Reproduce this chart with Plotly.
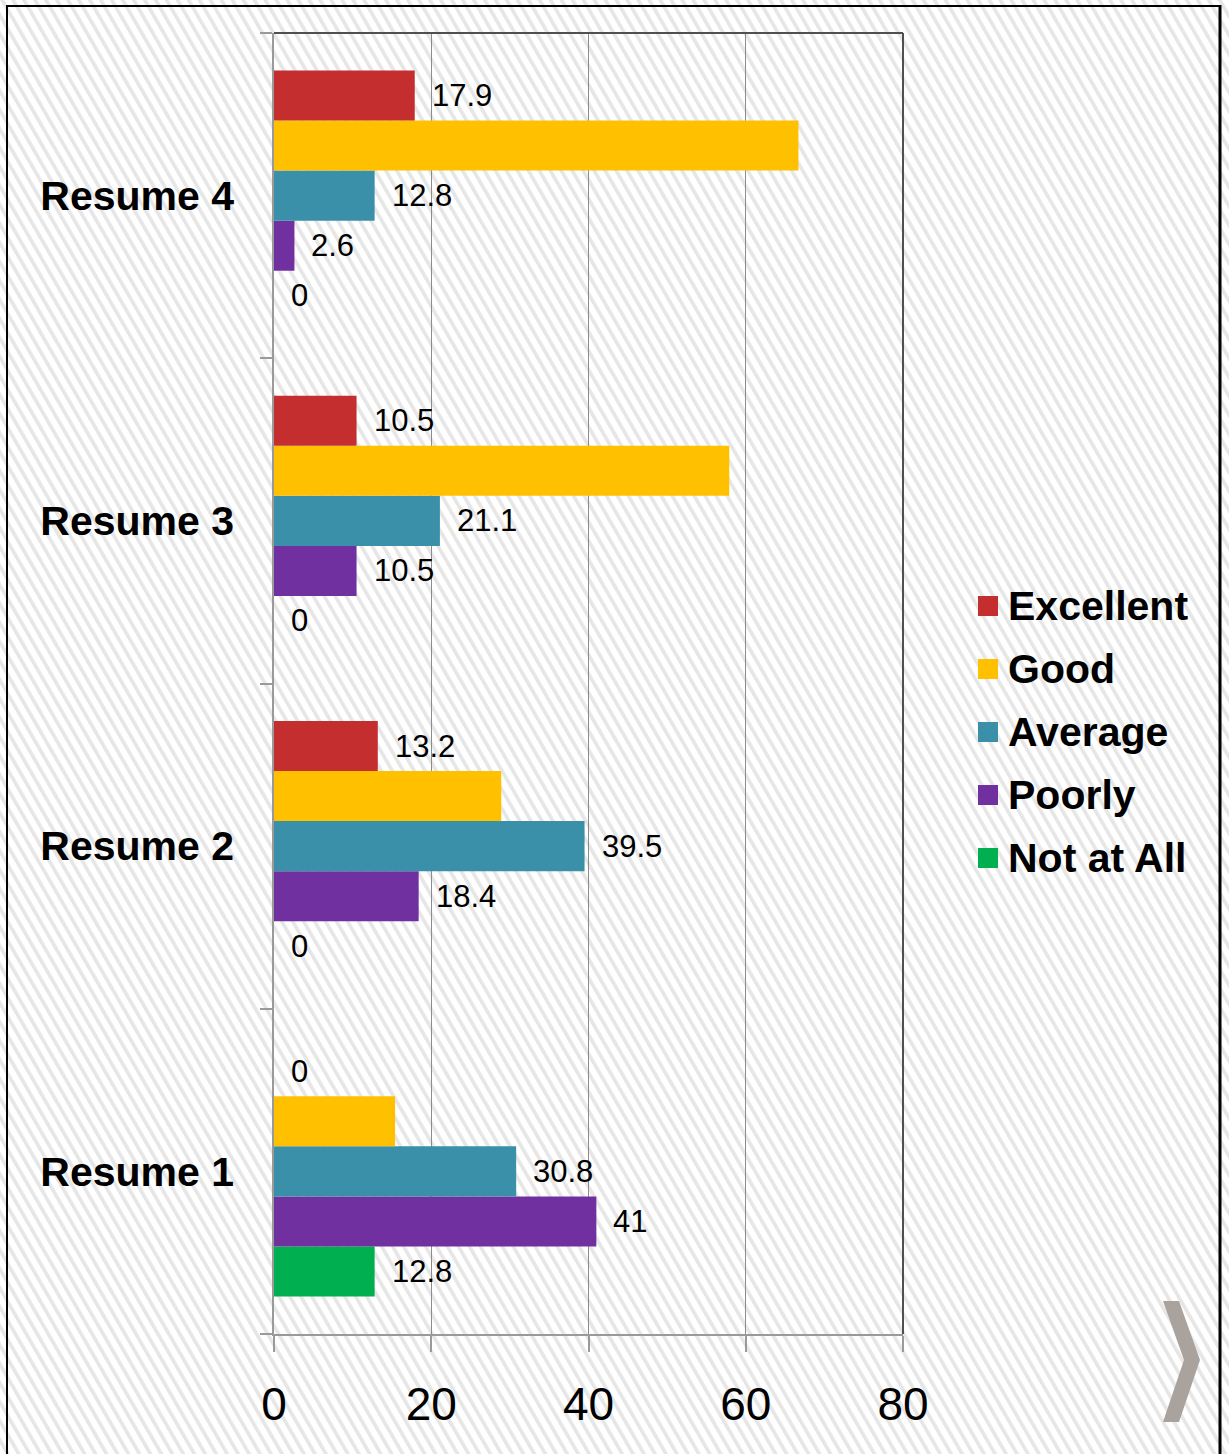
import base64
import plotly.graph_objects as go

# ---- data -------------------------------------------------------------
categories = ["Resume 1", "Resume 2", "Resume 3", "Resume 4"]
series_names = ["Excellent", "Good", "Average", "Poorly", "Not at All"]
excellent = [0, 13.2, 10.5, 17.9]
good = [15.4, 28.9, 57.9, 66.7]
average = [30.8, 39.5, 21.1, 12.8]
poorly = [41, 18.4, 10.5, 2.6]
not_at_all = [12.8, 0, 0, 0]
x_ticks = [0, 20, 40, 60, 80]

series_values = [excellent, good, average, poorly, not_at_all]
series_colors = ["#C42E2F", "#FFC000", "#3990A8", "#7030A0", "#00B050"]
labelled = [True, False, True, True, True]

# ---- geometry ---------------------------------------------------------
W, H = 1229, 1454
L, R, T, B = 274, 903, 33, 1334
BARGAP = 0.2306
NSER = len(series_names)
bar_w = (1 - BARGAP) / NSER


def px(xp):
    return (xp - L) / (R - L)


def py(yp):
    return (B - yp) / (B - T)


FONT = "Liberation Sans, Arial, sans-serif"

fig = go.Figure()

# grouped bars: horizontal groups stack first trace at bottom, so add in reverse
for k in reversed(range(NSER)):
    fig.add_trace(go.Bar(
        y=list(range(len(categories))),
        x=series_values[k],
        name=series_names[k],
        orientation="h",
        marker=dict(color=series_colors[k], line=dict(width=0)),
        showlegend=False,
        hoverinfo="x+name",
    ))

# value labels to the right of each bar
annotations = []
for k in range(NSER):
    if not labelled[k]:
        continue
    for i, v in enumerate(series_values[k]):
        annotations.append(dict(
            x=v, y=i + (NSER // 2 - k) * bar_w, xref="x", yref="y",
            text=f"{v:g}", showarrow=False, xanchor="left", yanchor="middle",
            xshift=15, font=dict(family=FONT, size=31, color="#000000"),
        ))

# legend drawn as squares + bold names
leg_y0, leg_step = 606, 63
shapes = []
for k in range(NSER):
    yc = leg_y0 + k * leg_step
    shapes.append(dict(
        type="rect", xref="paper", yref="paper",
        x0=px(978), x1=px(998), y0=py(yc - 10), y1=py(yc + 10),
        fillcolor=series_colors[k], line=dict(width=0), layer="above",
    ))
    annotations.append(dict(
        x=px(1006), y=py(yc), xref="paper", yref="paper", text=series_names[k],
        showarrow=False, xanchor="left", yanchor="middle",
        font=dict(family=FONT, size=41, color="#000000", weight="bold"),
    ))

# plot-area top / right edge
shapes.append(dict(type="line", xref="paper", yref="paper", x0=0, x1=1, y0=1, y1=1,
                   line=dict(color="#505050", width=2)))
shapes.append(dict(type="line", xref="paper", yref="paper", x0=1, x1=1, y0=0, y1=1,
                   line=dict(color="#505050", width=2)))

# outer frame (left, top, right)
shapes.append(dict(type="line", xref="paper", yref="paper", x0=px(7), x1=px(7),
                   y0=py(5), y1=py(1460), line=dict(color="#000000", width=2)))
shapes.append(dict(type="line", xref="paper", yref="paper", x0=px(7), x1=px(1221),
                   y0=py(6), y1=py(6), line=dict(color="#000000", width=2)))
shapes.append(dict(type="line", xref="paper", yref="paper", x0=px(1220), x1=px(1220),
                   y0=py(5), y1=py(1460), line=dict(color="#000000", width=3)))

# navigation chevron
chev = [(1163, 1301), (1179, 1301), (1200, 1360), (1179, 1422), (1163, 1422), (1184, 1360)]
path = "M" + " L".join(f"{px(a):.5f},{py(b):.5f}" for a, b in chev) + " Z"
shapes.append(dict(type="path", xref="paper", yref="paper", path=path,
                   fillcolor="#A9A29D", line=dict(width=0)))

# diagonal hatched backdrop
svg = (
    f'<svg xmlns="http://www.w3.org/2000/svg" width="{W}" height="{H}">'
    '<defs><filter id="b"><feGaussianBlur stdDeviation="0.7"/></filter>'
    '<pattern id="h" width="9.5" height="9.5" patternUnits="userSpaceOnUse" '
    'patternTransform="rotate(-30)">'
    '<rect width="9.5" height="9.5" fill="#ffffff"/>'
    '<rect x="0" width="3.6" height="9.5" fill="#e6e6e6"/></pattern></defs>'
    f'<rect width="{W}" height="{H}" fill="url(#h)" filter="url(#b)"/></svg>'
)
src = "data:image/svg+xml;base64," + base64.b64encode(svg.encode()).decode()

fig.update_layout(
    width=W, height=H, autosize=False,
    margin=dict(l=L, r=W - R, t=T, b=H - B, pad=0),
    paper_bgcolor="#ffffff", plot_bgcolor="rgba(0,0,0,0)",
    barmode="group", bargap=BARGAP, bargroupgap=0,
    showlegend=False,
    annotations=annotations, shapes=shapes,
    images=[dict(source=src, xref="paper", yref="paper", x=px(0), y=py(0),
                 sizex=W / (R - L), sizey=H / (B - T), xanchor="left", yanchor="top",
                 sizing="stretch", layer="below")],
    xaxis=dict(
        range=[0, 80], tickvals=x_ticks, ticktext=[str(t) for t in x_ticks],
        showgrid=True, gridcolor="#8C8C8C", gridwidth=1,
        showline=True, linecolor="#9A9A9A", linewidth=1.5,
        ticks="outside", ticklen=16, tickcolor="#9A9A9A", tickwidth=1.5,
        tickfont=dict(family=FONT, size=46, color="#000000"),
        ticklabelstandoff=13, zeroline=False, fixedrange=True,
    ),
    yaxis=dict(
        range=[-0.5, len(categories) - 0.5],
        tickvals=list(range(len(categories))), ticktext=categories,
        ticks="", showgrid=False, zeroline=False,
        showline=True, linecolor="#9A9A9A", linewidth=1.5,
        tickfont=dict(family=FONT, size=41, color="#000000", weight="bold"),
        ticklabelstandoff=30,
        minor=dict(tick0=-0.5, dtick=1, ticks="outside", ticklen=12,
                   tickcolor="#9A9A9A", tickwidth=1.5, showgrid=False),
        fixedrange=True,
    ),
)

fig.write_html("out.html")
